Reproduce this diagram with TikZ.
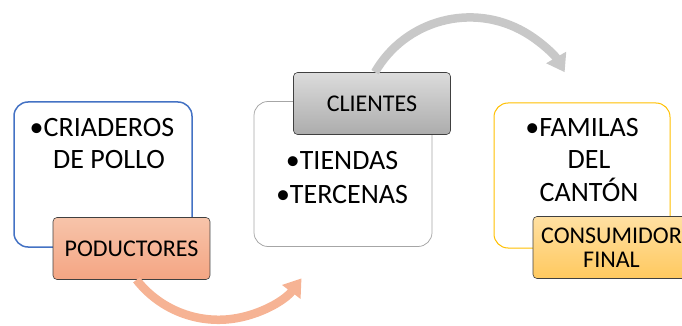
\documentclass[tikz,border=0pt]{standalone}
\usepackage{fontspec}
\setmainfont{Carlito}
\usetikzlibrary{arrows.meta}

\definecolor{boxblue}{HTML}{4472C4}
\definecolor{boxgray}{HTML}{A6A6A6}
\definecolor{boxyellow}{HTML}{FFC000}
\definecolor{labeledge}{HTML}{404040}
\definecolor{prodtop}{HTML}{F7C4AA}
\definecolor{prodbot}{HTML}{F4A583}
\definecolor{clitop}{HTML}{DCDCDC}
\definecolor{clibot}{HTML}{ACACAC}
\definecolor{constop}{HTML}{FFE0A2}
\definecolor{consbot}{HTML}{FFC95F}
\definecolor{prodarrow}{HTML}{F6B394}
\definecolor{cliarrow}{HTML}{C8C8C8}

\begin{document}
\begin{tikzpicture}[x=1pt, y=-1pt,
    bigbox/.style={draw, fill=white, rounded corners=14pt, minimum width=178pt, minimum height=145pt},
    bigtext/.style={anchor=north, inner sep=0pt, align=center},
    labelbox/.style={draw=labeledge, line width=0.6pt, rounded corners=4pt, minimum width=157pt, minimum height=62pt, align=center, font=\fontsize{24}{24}\selectfont},
    flow/.style={line width=8.5pt, -{Triangle[width=22pt, length=17pt]}}]

    \useasboundingbox (0,0) rectangle (682,326);

    % Big outlined boxes
    \node[bigbox, draw=boxblue, line width=1.5pt] (crias) at (103,174.5) {};
    \node[bigbox, draw=boxgray, line width=0.75pt] (tiendas) at (343,174) {};
    \node[bigbox, draw=boxyellow, line width=1pt, minimum width=176pt] (familias) at (582,175.5) {};

    % Bullet texts inside the boxes
    \node[bigtext, font=\fontsize{28}{32}\selectfont] (criastxt) at (109,118) {\llap{\textbullet}CRIADEROS\\DE POLLO};
    \node[bigtext, font=\fontsize{28}{34}\selectfont] (tiendastxt) at (342,151) {\textbullet TIENDAS\\\textbullet TERCENAS};
    \node[bigtext, font=\fontsize{28}{32.5}\selectfont] (familiastxt) at (589,118) {\llap{\textbullet}FAMILAS\\DEL\\CANTÓN};

    % Shaded label boxes
    \node[labelbox, top color=prodtop, bottom color=prodbot] (prod) at (131.5,248.5) {PODUCTORES};
    \node[labelbox, top color=clitop, bottom color=clibot] (cli) at (372,103.5) {CLIENTES};
    \node[labelbox, top color=constop, bottom color=consbot] (cons) at (611.5,247.5) {CONSUMIDOR\\FINAL};

    % Curved arrows between the stages
    \draw[flow, prodarrow] ([xshift=5pt]prod.south) arc[start angle=142, end angle=37, radius=104];
    \draw[flow, cliarrow] ([xshift=3pt]cli.north) arc[start angle=-150, end angle=-30, radius=109.5];

\end{tikzpicture}
\end{document}
